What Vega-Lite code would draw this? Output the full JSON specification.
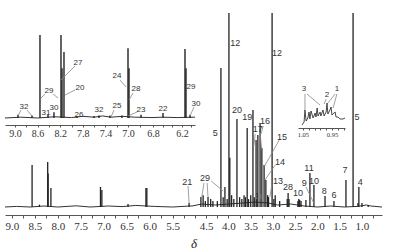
{
  "$schema": "https://vega.github.io/schema/vega-lite/v6.json",
  "width": 396,
  "height": 215,
  "autosize": {"type": "none"},
  "padding": {"left": 0, "top": 0, "right": 0, "bottom": 36},
  "background": "white",
  "config": {"view": {"stroke": null}},
  "datasets": {
    "mainBase": [
      {"ppm": 9.15, "h": 0}, {"ppm": 8.9, "h": 0.3}, {"ppm": 8.6, "h": 0}, {"ppm": 8.3, "h": 0.5},
      {"ppm": 8.0, "h": 0}, {"ppm": 7.6, "h": 0.6}, {"ppm": 7.3, "h": 0}, {"ppm": 6.9, "h": 0.5},
      {"ppm": 6.6, "h": 0.2}, {"ppm": 6.3, "h": 0.8}, {"ppm": 5.9, "h": 0.3}, {"ppm": 5.5, "h": 0},
      {"ppm": 5.12, "h": 0.5}, {"ppm": 4.82, "h": 0.5}, {"ppm": 4.6, "h": 1.5}, {"ppm": 4.3, "h": 1},
      {"ppm": 4.0, "h": 1.5}, {"ppm": 3.7, "h": 2}, {"ppm": 3.4, "h": 2.5}, {"ppm": 3.1, "h": 2},
      {"ppm": 2.9, "h": 1}, {"ppm": 2.6, "h": 1.5}, {"ppm": 2.3, "h": 0.5}, {"ppm": 2.0, "h": 0},
      {"ppm": 1.7, "h": 0.5}, {"ppm": 1.4, "h": 0}, {"ppm": 1.1, "h": 0.3}, {"ppm": 0.9, "h": 1},
      {"ppm": 0.8, "h": 0.5}, {"ppm": 0.55, "h": 0}
    ],
    "mainPeaks": [
      {"ppm": 8.56, "h": 21.3}, {"ppm": 8.22, "h": 22.8}, {"ppm": 8.21, "h": 17}, {"ppm": 8.15, "h": 9.6},
      {"ppm": 8.40, "h": 1.2}, {"ppm": 7.07, "h": 10.2}, {"ppm": 7.04, "h": 8.6}, {"ppm": 6.47, "h": 1.5},
      {"ppm": 6.08, "h": 9.6}, {"ppm": 6.06, "h": 9.6}, {"ppm": 5.14, "h": 2.0},
      {"ppm": 4.62, "h": 5.1}, {"ppm": 4.57, "h": 6}, {"ppm": 4.46, "h": 5.1}, {"ppm": 4.17, "h": 70.6},
      {"ppm": 4.08, "h": 10.2}, {"ppm": 3.99, "h": 98.5}, {"ppm": 3.97, "h": 25}, {"ppm": 3.81, "h": 44.7},
      {"ppm": 3.58, "h": 40.1}, {"ppm": 3.45, "h": 49.2}, {"ppm": 3.38, "h": 34}, {"ppm": 3.34, "h": 36.5},
      {"ppm": 3.29, "h": 42.6}, {"ppm": 3.25, "h": 30}, {"ppm": 3.20, "h": 21.3}, {"ppm": 3.16, "h": 13.7},
      {"ppm": 3.02, "h": 98.5}, {"ppm": 2.95, "h": 6}, {"ppm": 2.68, "h": 4}, {"ppm": 2.66, "h": 7.1},
      {"ppm": 2.64, "h": 4}, {"ppm": 2.44, "h": 3}, {"ppm": 2.42, "h": 4}, {"ppm": 2.40, "h": 3.5},
      {"ppm": 2.37, "h": 3}, {"ppm": 2.26, "h": 3.5}, {"ppm": 2.17, "h": 17.3}, {"ppm": 2.08, "h": 11.2},
      {"ppm": 1.83, "h": 5.6}, {"ppm": 1.63, "h": 3}, {"ppm": 1.36, "h": 13.7}, {"ppm": 1.20, "h": 98.5},
      {"ppm": 1.09, "h": 2}, {"ppm": 1.07, "h": 10.2}, {"ppm": 1.00, "h": 2}, {"ppm": 0.86, "h": 1},
      {"ppm": 4.52, "h": 3}, {"ppm": 4.40, "h": 4}, {"ppm": 4.35, "h": 3}, {"ppm": 4.25, "h": 3},
      {"ppm": 4.12, "h": 5}, {"ppm": 4.03, "h": 4}, {"ppm": 3.93, "h": 6}, {"ppm": 3.88, "h": 4},
      {"ppm": 3.75, "h": 5}, {"ppm": 3.70, "h": 4}, {"ppm": 3.65, "h": 6}, {"ppm": 3.62, "h": 5},
      {"ppm": 3.55, "h": 4}, {"ppm": 3.50, "h": 6}, {"ppm": 3.42, "h": 5}, {"ppm": 3.36, "h": 7},
      {"ppm": 3.12, "h": 6}, {"ppm": 3.10, "h": 5}, {"ppm": 2.98, "h": 4}, {"ppm": 2.85, "h": 3}
    ],
    "mainLabels": [
      {"ppm": 5.18, "y": 12.7, "t": "21"}, {"ppm": 4.53, "y": 14.7, "t": "29"},
      {"ppm": 4.30, "y": 37.6, "t": "5"}, {"ppm": 3.85, "y": 83.2, "t": "12"},
      {"ppm": 3.81, "y": 49.2, "t": "20"}, {"ppm": 3.58, "y": 45.7, "t": "19"},
      {"ppm": 3.34, "y": 39.6, "t": "17"}, {"ppm": 3.18, "y": 43.7, "t": "16"},
      {"ppm": 2.91, "y": 78.2, "t": "12"}, {"ppm": 2.80, "y": 35.5, "t": "15"},
      {"ppm": 2.84, "y": 22.8, "t": "14"}, {"ppm": 2.89, "y": 13.2, "t": "13"},
      {"ppm": 2.66, "y": 10.2, "t": "28"}, {"ppm": 2.44, "y": 7.1, "t": "10"},
      {"ppm": 2.30, "y": 12.2, "t": "9"}, {"ppm": 2.19, "y": 19.8, "t": "11"},
      {"ppm": 2.08, "y": 13.2, "t": "10"}, {"ppm": 1.85, "y": 8.1, "t": "8"},
      {"ppm": 1.63, "y": 6.1, "t": "6"}, {"ppm": 1.38, "y": 18.8, "t": "7"},
      {"ppm": 1.11, "y": 45.7, "t": "5"}, {"ppm": 1.04, "y": 12.7, "t": "4"}
    ],
    "mainSmallLabels": [
      {"ppm": 3.34, "y": 5.1, "t": "18"}
    ],
    "mainLeaders": [
      {"x1": 5.163, "y1": 10.7, "x2": 5.14, "y2": 2.0},
      {"x1": 4.55, "y1": 12.2, "x2": 4.60, "y2": 5.1},
      {"x1": 4.48, "y1": 12.2, "x2": 4.46, "y2": 5.1},
      {"x1": 4.39, "y1": 13.2, "x2": 4.12, "y2": 8.1},
      {"x1": 3.40, "y1": 37.1, "x2": 3.43, "y2": 31},
      {"x1": 3.29, "y1": 37.1, "x2": 3.25, "y2": 28.9},
      {"x1": 3.22, "y1": 41.1, "x2": 3.27, "y2": 37.1},
      {"x1": 2.86, "y1": 34, "x2": 3.20, "y2": 20.3},
      {"x1": 2.95, "y1": 21.3, "x2": 3.18, "y2": 13.7},
      {"x1": 3.02, "y1": 11.7, "x2": 3.07, "y2": 5.1},
      {"x1": 2.26, "y1": 10.2, "x2": 2.06, "y2": 1.0}
    ],
    "insetBase": [
      {"ppm": 9.18, "h": 0}, {"ppm": 8.9, "h": 1}, {"ppm": 8.6, "h": 0}, {"ppm": 8.3, "h": 1.5},
      {"ppm": 8.0, "h": 0.5}, {"ppm": 7.8, "h": 2}, {"ppm": 7.6, "h": 1}, {"ppm": 7.45, "h": 2.5},
      {"ppm": 7.3, "h": 1}, {"ppm": 7.1, "h": 2}, {"ppm": 6.95, "h": 1}, {"ppm": 6.8, "h": 0.5},
      {"ppm": 6.6, "h": 1}, {"ppm": 6.3, "h": 0.5}, {"ppm": 5.9, "h": 1}
    ],
    "insetPeaks": [
      {"ppm": 8.947, "h": 4}, {"ppm": 8.699, "h": 3}, {"ppm": 8.558, "h": 100}, {"ppm": 8.416, "h": 4},
      {"ppm": 8.31, "h": 7}, {"ppm": 8.186, "h": 100}, {"ppm": 8.168, "h": 60}, {"ppm": 8.133, "h": 79.5},
      {"ppm": 7.903, "h": 2}, {"ppm": 7.602, "h": 2.5}, {"ppm": 7.513, "h": 3}, {"ppm": 7.319, "h": 3},
      {"ppm": 7.106, "h": 3}, {"ppm": 7.0, "h": 84}, {"ppm": 6.992, "h": 60}, {"ppm": 6.896, "h": 4},
      {"ppm": 6.593, "h": 6}, {"ppm": 6.131, "h": 83}, {"ppm": 6.108, "h": 60}, {"ppm": 6.015, "h": 4}
    ],
    "insetLabels": [
      {"ppm": 8.841, "y": 13.3, "t": "32"}, {"ppm": 8.398, "y": 32.5, "t": "29"},
      {"ppm": 8.451, "y": 5.5, "t": "31"}, {"ppm": 8.31, "y": 12, "t": "30"},
      {"ppm": 7.885, "y": 66.3, "t": "27"}, {"ppm": 7.85, "y": 36.1, "t": "20"},
      {"ppm": 7.867, "y": 3.6, "t": "26"}, {"ppm": 7.513, "y": 9.6, "t": "32"},
      {"ppm": 7.195, "y": 14.5, "t": "25"}, {"ppm": 7.195, "y": 50.6, "t": "24"},
      {"ppm": 6.936, "y": 34.9, "t": "28"}, {"ppm": 6.896, "y": 9.6, "t": "23"},
      {"ppm": 6.593, "y": 10.8, "t": "22"}, {"ppm": 5.992, "y": 37.3, "t": "29"},
      {"ppm": 5.877, "y": 16.9, "t": "30"}
    ],
    "insetLeaders": [
      {"x1": 8.894, "y1": 9.6, "x2": 8.947, "y2": 2.4},
      {"x1": 8.788, "y1": 9.6, "x2": 8.699, "y2": 2.4},
      {"x1": 8.469, "y1": 28.9, "x2": 8.54, "y2": 24.1},
      {"x1": 8.327, "y1": 28.9, "x2": 8.239, "y2": 24.1},
      {"x1": 7.938, "y1": 62.7, "x2": 8.186, "y2": 45.8},
      {"x1": 7.938, "y1": 33.7, "x2": 8.115, "y2": 27.7},
      {"x1": 7.248, "y1": 9.6, "x2": 7.301, "y2": 1.2},
      {"x1": 7.142, "y1": 45.8, "x2": 7.035, "y2": 37.3},
      {"x1": 6.96, "y1": 30.1, "x2": 6.992, "y2": 21.7},
      {"x1": 6.928, "y1": 7.2, "x2": 7.0, "y2": 2.4},
      {"x1": 5.923, "y1": 13.3, "x2": 6.015, "y2": 2.4}
    ],
    "smallLine": [
      {"ppm": 1.053, "h": 0}, {"ppm": 1.046, "h": 12}, {"ppm": 1.043, "h": 60}, {"ppm": 1.039, "h": 16},
      {"ppm": 1.033, "h": 28}, {"ppm": 1.029, "h": 52}, {"ppm": 1.026, "h": 24}, {"ppm": 1.022, "h": 56},
      {"ppm": 1.015, "h": 28}, {"ppm": 1.008, "h": 48}, {"ppm": 1.005, "h": 32}, {"ppm": 1.001, "h": 68},
      {"ppm": 0.998, "h": 36}, {"ppm": 0.991, "h": 52}, {"ppm": 0.988, "h": 36}, {"ppm": 0.981, "h": 60},
      {"ppm": 0.977, "h": 36}, {"ppm": 0.970, "h": 52}, {"ppm": 0.967, "h": 88}, {"ppm": 0.964, "h": 44},
      {"ppm": 0.957, "h": 60}, {"ppm": 0.953, "h": 72}, {"ppm": 0.950, "h": 40}, {"ppm": 0.943, "h": 48},
      {"ppm": 0.939, "h": 52}, {"ppm": 0.936, "h": 32}, {"ppm": 0.929, "h": 32}, {"ppm": 0.922, "h": 24},
      {"ppm": 0.912, "h": 24}, {"ppm": 0.905, "h": 28}
    ],
    "smallLabels": [
      {"ppm": 1.046, "y": 144, "t": "3"}, {"ppm": 0.967, "y": 120, "t": "2"}, {"ppm": 0.933, "y": 144, "t": "1"}
    ],
    "smallLeaders": [
      {"x1": 1.043, "y1": 124, "x2": 1.043, "y2": 60},
      {"x1": 1.036, "y1": 124, "x2": 0.991, "y2": 80},
      {"x1": 0.970, "y1": 104, "x2": 0.977, "y2": 84},
      {"x1": 0.939, "y1": 124, "x2": 0.964, "y2": 88},
      {"x1": 0.933, "y1": 124, "x2": 0.946, "y2": 68}
    ]
  },
  "layer": [
    {
      "layer": [
        {
          "data": {"name": "mainBase"},
          "mark": {"type": "line", "color": "#333", "strokeWidth": 1},
          "encoding": {
            "x": {"field": "ppm", "type": "quantitative",
              "scale": {"type": "linear", "domain": [9.15, 5.12, 4.82, 0.55], "range": [5, 190, 192, 382], "zero": false, "nice": false},
              "axis": {"orient": "bottom", "title": "δ", "titleFont": "Liberation Serif", "titleFontStyle": "italic", "titleFontWeight": "normal", "titleFontSize": 13, "titleColor": "#222", "titlePadding": 6,
                "tickCount": 500,
                "values": [9.0, 8.75, 8.5, 8.25, 8.0, 7.75, 7.5, 7.25, 7.0, 6.75, 6.5, 6.25, 6.0, 5.75, 5.5, 5.25, 4.75, 4.5, 4.25, 4.0, 3.75, 3.5, 3.25, 3.0, 2.75, 2.5, 2.25, 2.0, 1.75, 1.5, 1.25, 1.0, 0.75],
                "labelExpr": "round(datum.value*2) == datum.value*2 ? format(datum.value, '.1f') : ''",
                "labelFont": "Liberation Serif", "labelFontSize": 11, "labelColor": "#333", "labelPadding": 2, "labelFlush": false, "labelOverlap": false,
                "tickSize": 3, "tickColor": "#555", "domainColor": "#555", "grid": false}},
            "y": {"field": "h", "type": "quantitative", "scale": {"domain": [0, 100], "range": [207, 10], "zero": false, "nice": false}, "axis": null}
          }
        },
        {
          "data": {"name": "mainPeaks"},
          "mark": {"type": "rule", "color": "#222", "strokeWidth": 1.3},
          "encoding": {
            "x": {"field": "ppm", "type": "quantitative"},
            "y": {"field": "h", "type": "quantitative", "axis": null},
            "y2": {"datum": 0}
          }
        },
        {
          "data": {"name": "mainLeaders"},
          "mark": {"type": "rule", "color": "#888", "strokeWidth": 0.8},
          "encoding": {
            "x": {"field": "x1", "type": "quantitative"},
            "x2": {"field": "x2"},
            "y": {"field": "y1", "type": "quantitative", "axis": null},
            "y2": {"field": "y2"}
          }
        },
        {
          "data": {"name": "mainLabels"},
          "mark": {"type": "text", "font": "Liberation Sans", "fontSize": 9, "color": "#333"},
          "encoding": {
            "x": {"field": "ppm", "type": "quantitative"},
            "y": {"field": "y", "type": "quantitative", "axis": null},
            "text": {"field": "t", "type": "nominal"}
          }
        },
        {
          "data": {"name": "mainSmallLabels"},
          "mark": {"type": "text", "font": "Liberation Sans", "fontSize": 7, "color": "#888"},
          "encoding": {
            "x": {"field": "ppm", "type": "quantitative"},
            "y": {"field": "y", "type": "quantitative", "axis": null},
            "text": {"field": "t", "type": "nominal"}
          }
        }
      ]
    },
    {
      "layer": [
        {
          "data": {"name": "insetBase"},
          "mark": {"type": "line", "color": "#333", "strokeWidth": 1},
          "encoding": {
            "x": {"field": "ppm", "type": "quantitative",
              "scale": {"type": "linear", "domain": [9.18, 9.0, 7.0, 6.8, 6.2, 5.9], "range": [5, 15, 128, 153, 182, 195], "zero": false, "nice": false},
              "axis": {"orient": "bottom", "offset": -90, "title": null,
                "tickCount": 500,
                "values": [9.0, 8.8, 8.6, 8.4, 8.2, 8.0, 7.8, 7.6, 7.4, 7.2, 7.0, 6.9, 6.8, 6.6, 6.4, 6.2, 6.0],
                "labelExpr": "indexof([9, 8.6, 8.2, 7.8, 7.4, 7, 6.8, 6.2], round(datum.value*10)/10) >= 0 ? format(datum.value, '.1f') : ''",
                "labelFont": "Liberation Serif", "labelFontSize": 10, "labelColor": "#333", "labelPadding": 1, "labelFlush": false, "labelOverlap": false,
                "tickSize": 2, "tickColor": "#555", "domainColor": "#555", "grid": false}},
            "y": {"field": "h", "type": "quantitative", "scale": {"domain": [0, 100], "range": [118, 35], "zero": false, "nice": false}, "axis": null}
          }
        },
        {
          "data": {"name": "insetPeaks"},
          "mark": {"type": "rule", "color": "#222", "strokeWidth": 1.4},
          "encoding": {
            "x": {"field": "ppm", "type": "quantitative"},
            "y": {"field": "h", "type": "quantitative", "axis": null},
            "y2": {"datum": 0}
          }
        },
        {
          "data": {"name": "insetLeaders"},
          "mark": {"type": "rule", "color": "#888", "strokeWidth": 0.8},
          "encoding": {
            "x": {"field": "x1", "type": "quantitative"},
            "x2": {"field": "x2"},
            "y": {"field": "y1", "type": "quantitative", "axis": null},
            "y2": {"field": "y2"}
          }
        },
        {
          "data": {"name": "insetLabels"},
          "mark": {"type": "text", "font": "Liberation Sans", "fontSize": 8, "color": "#333"},
          "encoding": {
            "x": {"field": "ppm", "type": "quantitative"},
            "y": {"field": "y", "type": "quantitative", "axis": null},
            "text": {"field": "t", "type": "nominal"}
          }
        }
      ]
    },
    {
      "layer": [
        {
          "data": {"name": "smallLine"},
          "mark": {"type": "line", "color": "#333", "strokeWidth": 0.9},
          "encoding": {
            "x": {"field": "ppm", "type": "quantitative",
              "scale": {"type": "linear", "domain": [1.067, 0.905], "range": [298, 345], "zero": false, "nice": false},
              "axis": {"orient": "bottom", "offset": -87, "title": null,
                "tickCount": 500,
                "values": [1.05, 1.03, 1.01, 0.99, 0.97, 0.95, 0.93, 0.91],
                "labelExpr": "abs(datum.value - 1.05) < 0.001 || abs(datum.value - 0.95) < 0.001 ? format(datum.value, '.2f') : ''",
                "labelFont": "Liberation Serif", "labelFontSize": 6.5, "labelColor": "#333", "labelPadding": 1, "labelFlush": false, "labelOverlap": false,
                "tickSize": 2, "tickColor": "#555", "domainColor": "#555", "grid": false}},
            "y": {"field": "h", "type": "quantitative", "scale": {"domain": [0, 160], "range": [125, 85], "zero": false, "nice": false}, "axis": null}
          }
        },
        {
          "data": {"name": "smallLeaders"},
          "mark": {"type": "rule", "color": "#888", "strokeWidth": 0.8},
          "encoding": {
            "x": {"field": "x1", "type": "quantitative"},
            "x2": {"field": "x2"},
            "y": {"field": "y1", "type": "quantitative", "axis": null},
            "y2": {"field": "y2"}
          }
        },
        {
          "data": {"name": "smallLabels"},
          "mark": {"type": "text", "font": "Liberation Sans", "fontSize": 8, "color": "#333"},
          "encoding": {
            "x": {"field": "ppm", "type": "quantitative"},
            "y": {"field": "y", "type": "quantitative", "axis": null},
            "text": {"field": "t", "type": "nominal"}
          }
        }
      ]
    }
  ],
  "resolve": {"scale": {"x": "independent", "y": "independent"}, "axis": {"x": "independent", "y": "independent"}}
}
